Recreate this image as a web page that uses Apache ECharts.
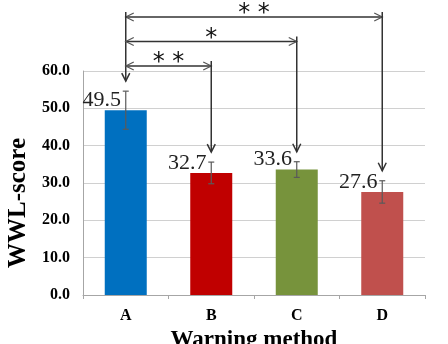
<!DOCTYPE html>
<html lang="en">
<head>
    <meta charset="UTF-8">
    <title>WWL-score</title>
    <style>
        * { margin: 0; padding: 0; }
        html, body { width: 100%; height: 100%; background: #fff; }
        #charts { width: 448px; height: 344px; }
    </style>
    <script src="https://cdn.jsdelivr.net/npm/echarts@6/dist/echarts.min.js"></script>
</head>
<body>
    <div id="charts"></div>
<script>
    var categories = ['A', 'B', 'C', 'D'];
    var means = [49.5, 32.7, 33.6, 27.6];
    var errors = [5.1, 2.9, 2.1, 3.0];
    var barColors = ['#0070C0', '#C00000', '#77933C', '#C0504D'];
    var yTicks = [0, 10, 20, 30, 40, 50, 60];
    // significance brackets: [from, to, stars]
    var comparisons = [[0, 3, '* *'], [0, 2, '*'], [0, 1, '* *']];

    var serif = "'Liberation Serif', 'Times New Roman', serif";
    var lineColor = '#333';

    // error bars
    function renderError(params, api) {
        var idx = api.value(0);
        var lo = api.coord([idx, api.value(1)]);
        var hi = api.coord([idx, api.value(2)]);
        var style = { stroke: '#5a5a5a', lineWidth: 1.2 };
        return {
            type: 'group',
            children: [
                { type: 'line', shape: { x1: hi[0], y1: hi[1], x2: lo[0], y2: lo[1] }, style: style },
                { type: 'line', shape: { x1: hi[0] - 3, y1: hi[1], x2: hi[0] + 3, y2: hi[1] }, style: style },
                { type: 'line', shape: { x1: lo[0] - 3, y1: lo[1], x2: lo[0] + 3, y2: lo[1] }, style: style }
            ]
        };
    }

    function downArrow(x, yTop, yTip) {
        return [
            { type: 'line', shape: { x1: x, y1: yTop, x2: x, y2: yTip }, style: { stroke: lineColor, lineWidth: 1.5 } },
            { type: 'polyline', shape: { points: [[x - 4, yTip - 8], [x, yTip], [x + 4, yTip - 8]] },
              style: { stroke: lineColor, lineWidth: 1.5, fill: null } }
        ];
    }

    function tipY(api, i) {
        return api.coord([i, means[i] + errors[i]])[1] - 10;
    }

    // comparison brackets with arrows
    function renderBracket(params, api) {
        var i = params.dataIndex;
        var n = comparisons.length;
        var from = api.value(0), to = api.value(1);
        var top = params.coordSys.y;
        var ly = top - 5 - 24.5 * (n - 1 - i);
        var x0 = api.coord([from, 0])[0];
        var x1 = api.coord([to, 0])[0];
        var headStyle = { stroke: '#555', lineWidth: 1.2, fill: null };
        var children = [
            { type: 'line', shape: { x1: x0, y1: ly, x2: x1, y2: ly }, style: { stroke: lineColor, lineWidth: 1.3 } },
            { type: 'polyline', shape: { points: [[x0 + 8, ly - 4], [x0, ly], [x0 + 8, ly + 4]] }, style: headStyle },
            { type: 'polyline', shape: { points: [[x1 - 8, ly - 4], [x1, ly], [x1 - 8, ly + 4]] }, style: headStyle },
            { type: 'text', x: (x0 + x1) / 2, y: ly - 3,
              style: { text: comparisons[i][2], fill: '#111', font: '24px DejaVu Sans', align: 'center', verticalAlign: 'middle' } }
        ];
        children = children.concat(downArrow(x1, ly - 5, tipY(api, to)));
        if (i === 0) {
            children = children.concat(downArrow(x0, ly - 5, tipY(api, from)));
        }
        return { type: 'group', children: children };
    }

    var barData = means.map(function (v, i) {
        return { value: v, itemStyle: { color: barColors[i] } };
    });
    var errData = means.map(function (v, i) {
        return [i, v - errors[i], v + errors[i]];
    });
    var bracketData = comparisons.map(function (c) { return [c[0], c[1]]; });

    var option = {
        animation: false,
        grid: { left: 83, right: 23, top: 71, bottom: 49, outerBoundsMode: 'none' },
        xAxis: {
            type: 'category',
            data: categories,
            name: 'Warning method',
            nameLocation: 'middle',
            nameGap: 23,
            nameTextStyle: { fontFamily: serif, fontWeight: 'bold', fontSize: 23, color: '#000' },
            axisLine: { lineStyle: { color: '#a6a6a6' } },
            axisTick: { show: true, length: 4, lineStyle: { color: '#a6a6a6' } },
            axisLabel: { margin: 13, fontFamily: serif, fontWeight: 'bold', fontSize: 16, color: '#000' }
        },
        yAxis: {
            type: 'value',
            min: yTicks[0],
            max: yTicks[yTicks.length - 1],
            interval: 10,
            name: 'WWL-score',
            nameLocation: 'middle',
            nameGap: 48,
            nameTextStyle: { fontFamily: serif, fontWeight: 'bold', fontSize: 25, color: '#000', padding: [0, 40, 0, 0] },
            axisLine: { show: true, lineStyle: { color: '#a6a6a6' } },
            axisTick: { show: false },
            splitLine: { lineStyle: { color: '#d0d0d0' } },
            axisLabel: {
                margin: 13, fontFamily: serif, fontWeight: 'bold', fontSize: 16, color: '#000',
                formatter: function (v) { return v.toFixed(1); }
            }
        },
        series: [
            {
                type: 'bar',
                data: barData,
                barWidth: 42,
                label: {
                    show: true,
                    position: 'top',
                    distance: 0,
                    offset: [-24, 1],
                    fontFamily: serif,
                    fontSize: 22,
                    color: '#222',
                    formatter: function (p) { return p.value.toFixed(1); }
                }
            },
            { type: 'custom', renderItem: renderError, data: errData, z: 3 },
            { type: 'custom', renderItem: renderBracket, data: bracketData, z: 4, clip: false }
        ]
    };
    var myChart = echarts.init(document.getElementById('charts'));
    myChart.setOption(option);
</script>
</body>
</html>
